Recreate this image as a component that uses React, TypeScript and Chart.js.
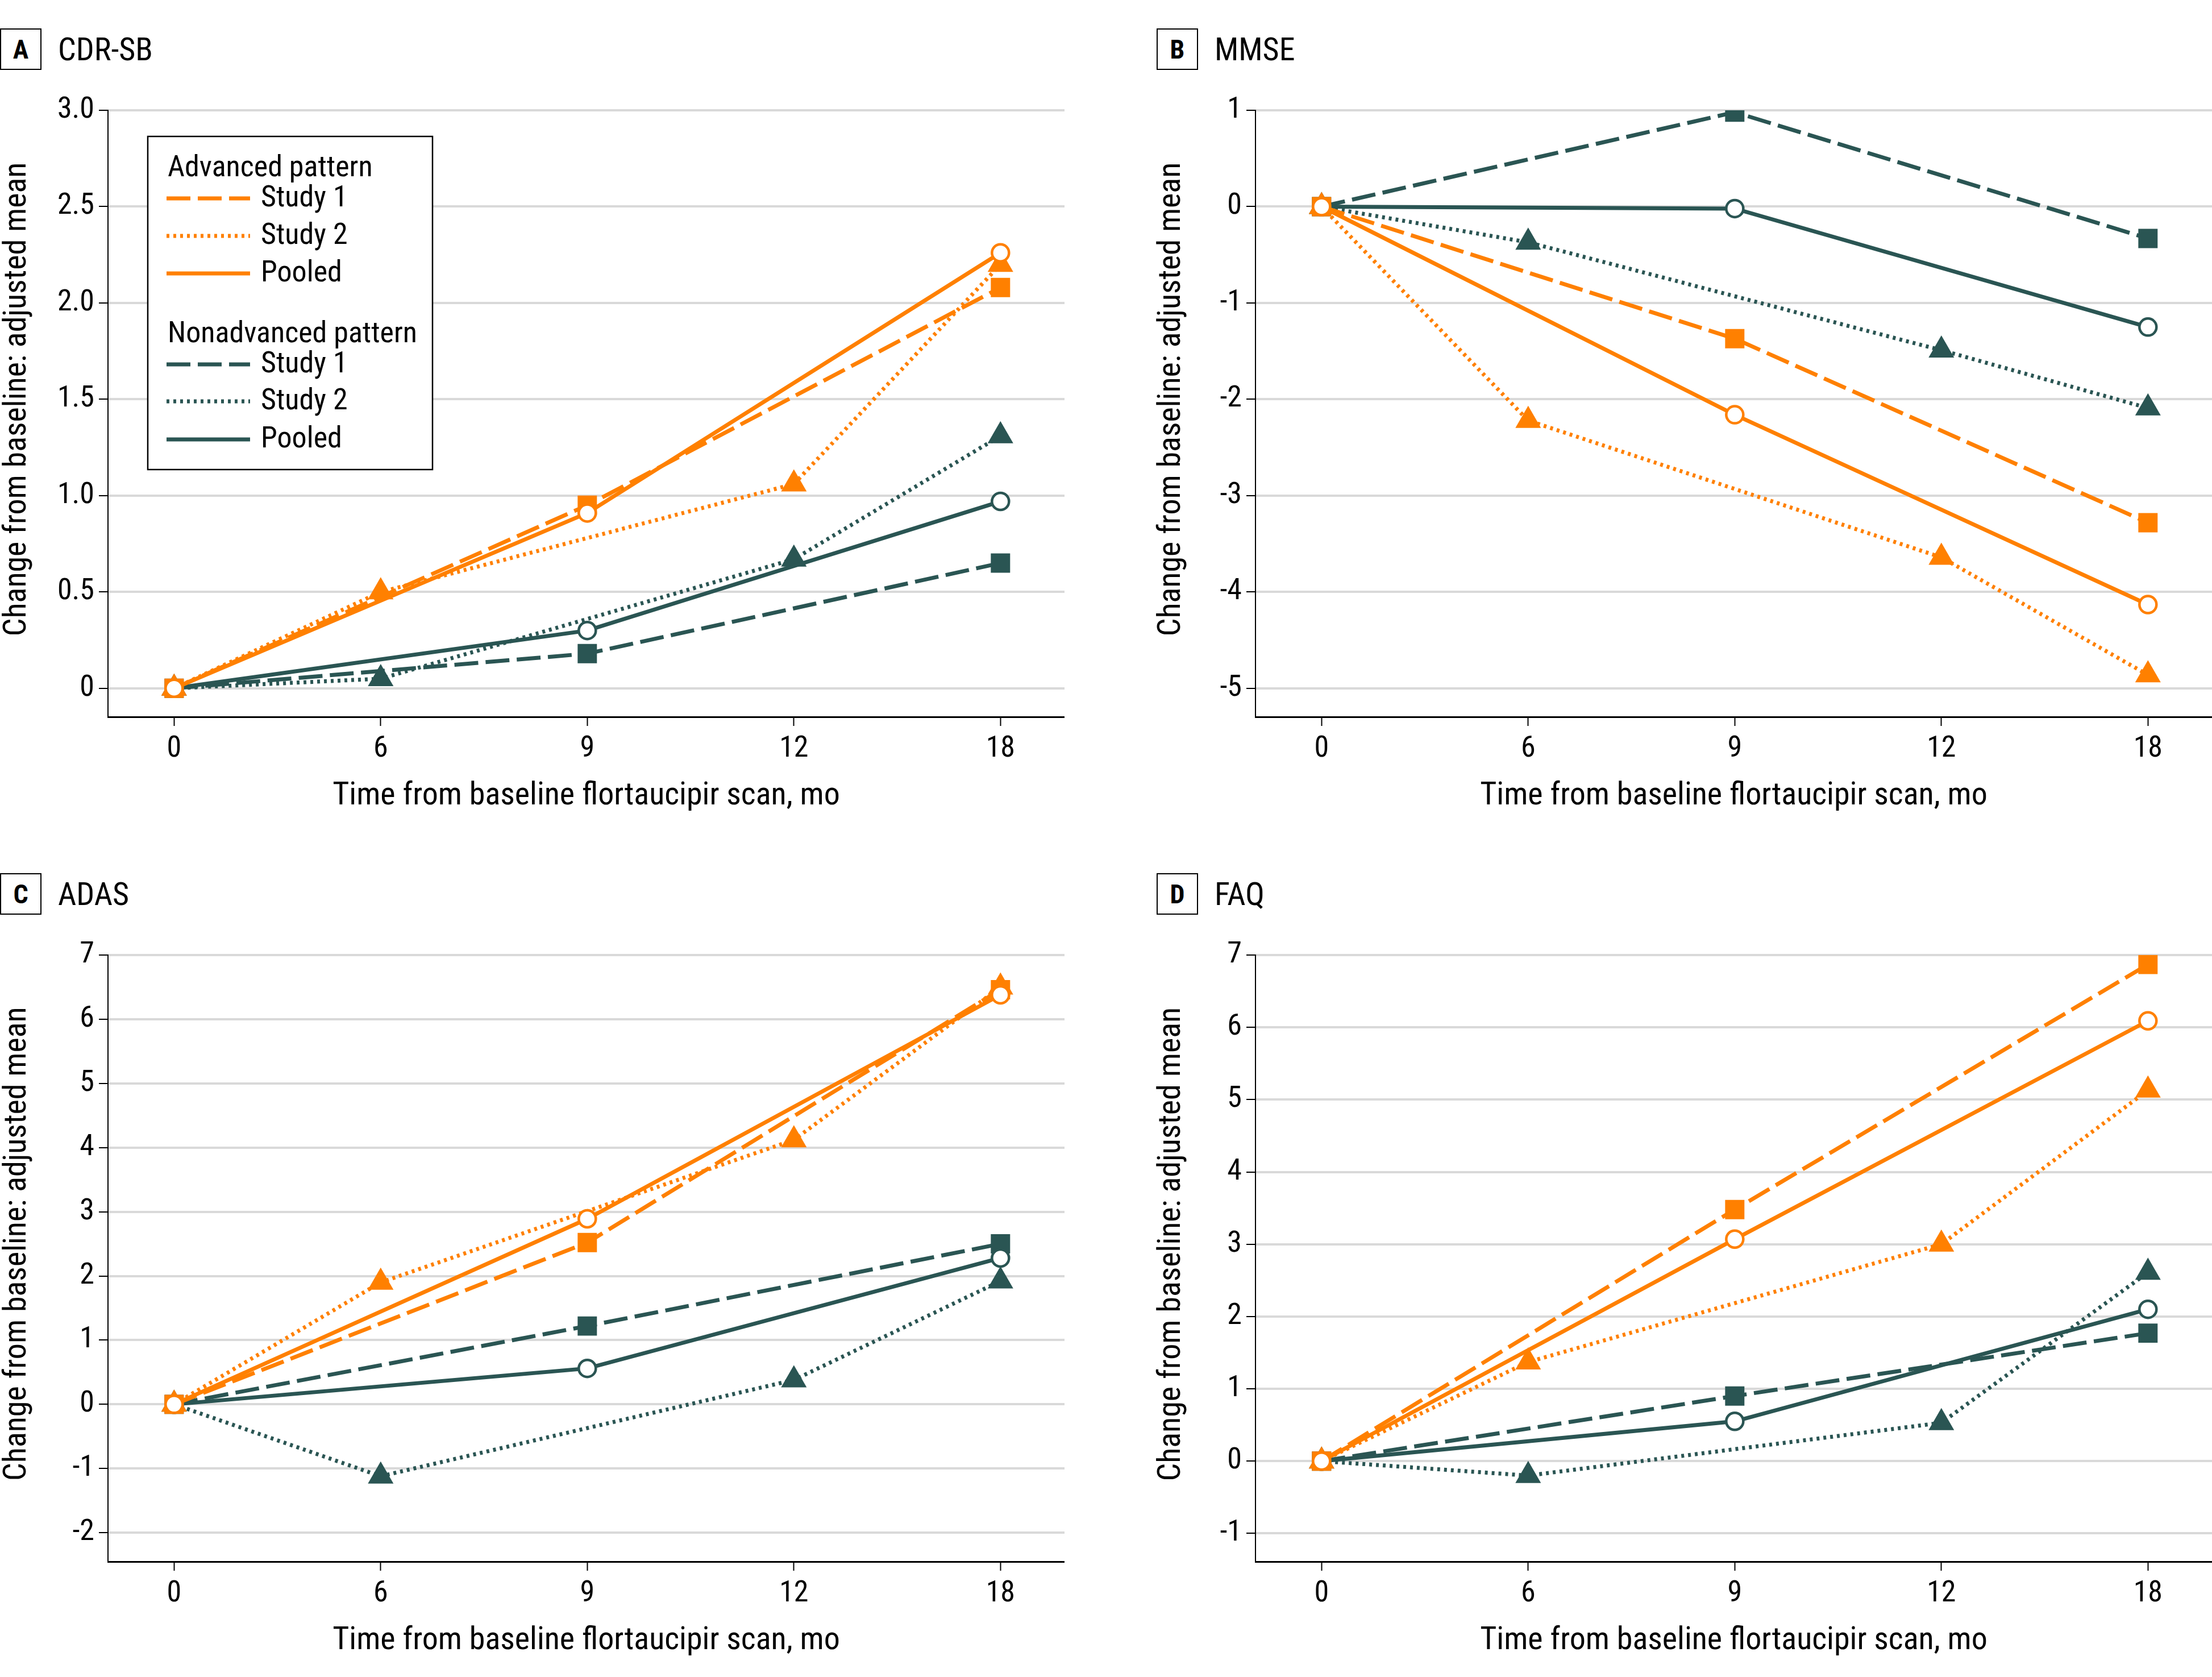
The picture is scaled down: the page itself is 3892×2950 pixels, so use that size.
import React, { useEffect, useRef } from 'react';
import { Chart, registerables } from 'chart.js';

Chart.register(...registerables);

const FONT = "'Roboto Condensed', 'Liberation Sans Narrow', 'DejaVu Sans Condensed', 'Noto Sans', sans-serif";
const ORANGE = '#FF8000';
const TEAL = '#2A5553';

const TIME_LABELS = ['0', '6', '9', '12', '18'];
const X_TITLE = 'Time from baseline flortaucipir scan, mo';
const Y_TITLE = 'Change from baseline: adjusted mean';
const SERIES_NAMES = ['Study 1', 'Study 2', 'Pooled'];
const GROUP_NAMES = ['Advanced pattern', 'Nonadvanced pattern'];

// Panel A: CDR-SB
const A_ADV_STUDY1 = [0, null, 0.95, null, 2.08];
const A_ADV_STUDY2 = [0, 0.5, null, 1.06, 2.2];
const A_ADV_POOLED = [0, null, 0.91, null, 2.26];
const A_NON_STUDY1 = [0, null, 0.18, null, 0.65];
const A_NON_STUDY2 = [0, 0.05, null, 0.67, 1.31];
const A_NON_POOLED = [0, null, 0.3, null, 0.97];
const A_Y_TICKS = [0, 0.5, 1, 1.5, 2, 2.5, 3];
const A_Y_LABELS = ['0', '0.5', '1.0', '1.5', '2.0', '2.5', '3.0'];

// Panel B: MMSE
const B_ADV_STUDY1 = [0, null, -1.37, null, -3.28];
const B_ADV_STUDY2 = [0, -2.22, null, -3.64, -4.86];
const B_ADV_POOLED = [0, null, -2.16, null, -4.13];
const B_NON_STUDY1 = [0, null, 0.98, null, -0.33];
const B_NON_STUDY2 = [0, -0.37, null, -1.49, -2.09];
const B_NON_POOLED = [0, null, -0.02, null, -1.25];
const B_Y_TICKS = [-5, -4, -3, -2, -1, 0, 1];
const B_Y_LABELS = ['-5', '-4', '-3', '-2', '-1', '0', '1'];

// Panel C: ADAS
const C_ADV_STUDY1 = [0, null, 2.52, null, 6.46];
const C_ADV_STUDY2 = [0, 1.9, null, 4.12, 6.5];
const C_ADV_POOLED = [0, null, 2.89, null, 6.38];
const C_NON_STUDY1 = [0, null, 1.22, null, 2.5];
const C_NON_STUDY2 = [0, -1.12, null, 0.38, 1.92];
const C_NON_POOLED = [0, null, 0.56, null, 2.28];
const C_Y_TICKS = [-2, -1, 0, 1, 2, 3, 4, 5, 6, 7];
const C_Y_LABELS = ['-2', '-1', '0', '1', '2', '3', '4', '5', '6', '7'];

// Panel D: FAQ
const D_ADV_STUDY1 = [0, null, 3.48, null, 6.87];
const D_ADV_STUDY2 = [0, 1.37, null, 3.0, 5.13];
const D_ADV_POOLED = [0, null, 3.07, null, 6.09];
const D_NON_STUDY1 = [0, null, 0.9, null, 1.77];
const D_NON_STUDY2 = [0, -0.2, null, 0.53, 2.61];
const D_NON_POOLED = [0, null, 0.55, null, 2.1];
const D_Y_TICKS = [-1, 0, 1, 2, 3, 4, 5, 6, 7];
const D_Y_LABELS = ['-1', '0', '1', '2', '3', '4', '5', '6', '7'];

const CANVAS_W = 1873;
const CANVAS_H = 1460;

const DASHES = [[42, 13], [5, 7], []];

type PanelSpec = {
  letter: string;
  title: string;
  adv: (number | null)[][];
  non: (number | null)[][];
  yTicks: number[];
  yLabels: string[];
  yMin: number;
  yMax: number;
  left: number;
  top: number;
  boxLeft: number;
  yTitleX: number;
  legend: boolean;
};

const PANELS: PanelSpec[] = [
  { letter: 'A', title: 'CDR-SB', adv: [A_ADV_STUDY1, A_ADV_STUDY2, A_ADV_POOLED], non: [A_NON_STUDY1, A_NON_STUDY2, A_NON_POOLED], yTicks: A_Y_TICKS, yLabels: A_Y_LABELS, yMin: -0.148, yMax: 3, left: 0, top: 0, boxLeft: 0, yTitleX: 31, legend: true },
  { letter: 'B', title: 'MMSE', adv: [B_ADV_STUDY1, B_ADV_STUDY2, B_ADV_POOLED], non: [B_NON_STUDY1, B_NON_STUDY2, B_NON_POOLED], yTicks: B_Y_TICKS, yLabels: B_Y_LABELS, yMin: -5.295, yMax: 1, left: 2019, top: 0, boxLeft: 2035, yTitleX: 43, legend: false },
  { letter: 'C', title: 'ADAS', adv: [C_ADV_STUDY1, C_ADV_STUDY2, C_ADV_POOLED], non: [C_NON_STUDY1, C_NON_STUDY2, C_NON_POOLED], yTicks: C_Y_TICKS, yLabels: C_Y_LABELS, yMin: -2.45, yMax: 7, left: 0, top: 1486, boxLeft: 0, yTitleX: 31, legend: false },
  { letter: 'D', title: 'FAQ', adv: [D_ADV_STUDY1, D_ADV_STUDY2, D_ADV_POOLED], non: [D_NON_STUDY1, D_NON_STUDY2, D_NON_POOLED], yTicks: D_Y_TICKS, yLabels: D_Y_LABELS, yMin: -1.39, yMax: 7, left: 2019, top: 1486, boxLeft: 2035, yTitleX: 43, legend: false },
];

const yTitlePlugin = {
  id: 'yTitle',
  afterDraw(chart: any, _args: any, opts: any) {
    const y = chart.scales.y;
    const t = y.ticks;
    const top = y.getPixelForValue(t[t.length - 1].value);
    const bottom = y.getPixelForValue(t[0].value);
    const ctx = chart.ctx;
    ctx.save();
    ctx.translate(opts.x, (top + bottom) / 2);
    ctx.rotate(-Math.PI / 2);
    ctx.font = `${opts.size}px ${FONT}`;
    ctx.fillStyle = '#000';
    ctx.textAlign = 'center';
    ctx.textBaseline = 'middle';
    ctx.fillText(opts.text, 0, 0);
    ctx.restore();
  },
};

const legendPlugin = {
  id: 'groupLegend',
  afterDatasetsDraw(chart: any) {
    const { ctx, chartArea } = chart;
    const x0 = chartArea.left + 70;
    const y0 = chartArea.top + 46;
    const w = 501;
    const h = 586;
    ctx.save();
    ctx.fillStyle = '#fff';
    ctx.fillRect(x0, y0, w, h);
    ctx.strokeStyle = '#000';
    ctx.lineWidth = 2.5;
    ctx.strokeRect(x0, y0, w, h);
    const groups = [
      { name: GROUP_NAMES[0], color: ORANGE, head: 70, rows: [109, 175, 241] },
      { name: GROUP_NAMES[1], color: TEAL, head: 362, rows: [401, 466, 533] },
    ];
    ctx.font = `52px ${FONT}`;
    groups.forEach((g) => {
      ctx.fillStyle = '#000';
      ctx.textAlign = 'left';
      ctx.textBaseline = 'alphabetic';
      ctx.fillText(g.name, x0 + 35, y0 + g.head);
      g.rows.forEach((ry, i) => {
        ctx.strokeStyle = g.color;
        ctx.lineWidth = 7;
        ctx.lineCap = 'butt';
        ctx.setLineDash(DASHES[i]);
        ctx.beginPath();
        ctx.moveTo(x0 + 33, y0 + ry);
        ctx.lineTo(x0 + 180, y0 + ry);
        ctx.stroke();
        ctx.setLineDash([]);
        ctx.fillStyle = '#000';
        ctx.textBaseline = 'middle';
        ctx.fillText(SERIES_NAMES[i], x0 + 199, y0 + ry + 1);
      });
    });
    ctx.restore();
  },
};

function makeDataset(values: (number | null)[], color: string, kind: number) {
  const pts = values.map((v, i) => ({ x: i, y: v }));
  const base: any = {
    data: pts,
    borderColor: color,
    borderWidth: 7,
    borderDash: DASHES[kind],
    borderCapStyle: 'butt',
    spanGaps: true,
    tension: 0,
    fill: false,
  };
  if (kind === 0) {
    return { ...base, pointStyle: 'rect', pointRadius: 24, pointBackgroundColor: color, pointBorderWidth: 0, pointBorderColor: color };
  }
  if (kind === 1) {
    return { ...base, pointStyle: 'triangle', pointRadius: 26, pointBackgroundColor: color, pointBorderWidth: 0, pointBorderColor: color };
  }
  return { ...base, pointStyle: 'circle', pointRadius: 15, pointBackgroundColor: '#fff', pointBorderWidth: 4.5, pointBorderColor: color };
}

function Panel({ spec }: { spec: PanelSpec }) {
  const ref = useRef<HTMLCanvasElement | null>(null);
  useEffect(() => {
    if (!ref.current) return;
    const datasets = [
      makeDataset(spec.adv[2], ORANGE, 2),
      makeDataset(spec.adv[0], ORANGE, 0),
      makeDataset(spec.adv[1], ORANGE, 1),
      makeDataset(spec.non[2], TEAL, 2),
      makeDataset(spec.non[0], TEAL, 0),
      makeDataset(spec.non[1], TEAL, 1),
    ];
    const chart = new Chart(ref.current, {
      type: 'line',
      data: { datasets },
      plugins: spec.legend ? [yTitlePlugin, legendPlugin] : [yTitlePlugin],
      options: {
        animation: false,
        responsive: false,
        devicePixelRatio: 1,
        events: [],
        layout: { autoPadding: false, padding: { top: 194, bottom: 25, left: 0, right: 0 } },
        plugins: {
          legend: { display: false },
          tooltip: { enabled: false },
          yTitle: { x: spec.yTitleX, text: Y_TITLE, size: 56 },
        } as any,
        scales: {
          x: {
            type: 'linear',
            min: -0.32,
            max: 4.31,
            afterBuildTicks: (axis: any) => {
              axis.ticks = TIME_LABELS.map((_, i) => ({ value: i }));
            },
            afterFit: (axis: any) => {
              axis.height = 174;
            },
            ticks: {
              callback: (v: any) => TIME_LABELS[v],
              font: { family: FONT, size: 52 },
              color: '#000',
              padding: 10,
              autoSkip: false,
              maxRotation: 0,
            },
            grid: { drawOnChartArea: false, drawTicks: true, tickLength: 16, tickColor: '#000', tickWidth: 2 },
            border: { display: true, color: '#000', width: 3 },
            title: { display: true, text: X_TITLE, font: { family: FONT, size: 56 }, color: '#000', padding: { top: 0, bottom: 0 } },
          },
          y: {
            type: 'linear',
            min: spec.yMin,
            max: spec.yMax,
            afterBuildTicks: (axis: any) => {
              axis.ticks = spec.yTicks.map((v) => ({ value: v }));
            },
            afterFit: (axis: any) => {
              axis.width = 190;
            },
            ticks: {
              callback: (v: any) => spec.yLabels[spec.yTicks.indexOf(v)],
              font: { family: FONT, size: 52 },
              color: '#000',
              padding: 8,
              autoSkip: false,
            },
            grid: { color: '#d9d9d9', lineWidth: 4, drawTicks: true, tickLength: 16, tickColor: '#000', tickWidth: 2 },
            border: { display: true, color: '#000', width: 2 },
          },
        } as any,
      },
    } as any);
    return () => chart.destroy();
  }, [spec]);

  return (
    <>
      <canvas
        ref={ref}
        width={CANVAS_W}
        height={CANVAS_H}
        style={{ position: 'absolute', left: spec.left, top: spec.top, width: CANVAS_W, height: CANVAS_H, display: 'block' }}
      />
      <div
        style={{
          position: 'absolute',
          left: spec.boxLeft,
          top: spec.top + 50,
          width: 73,
          height: 73,
          boxSizing: 'border-box',
          border: '2.5px solid #000',
          display: 'flex',
          alignItems: 'center',
          justifyContent: 'center',
          fontFamily: FONT,
          fontWeight: 700,
          fontSize: 46,
          color: '#000',
          background: '#fff',
        }}
      >
        {spec.letter}
      </div>
      <div
        style={{
          position: 'absolute',
          left: spec.boxLeft + 102,
          top: spec.top + 50,
          height: 73,
          display: 'flex',
          alignItems: 'center',
          fontFamily: FONT,
          fontSize: 56,
          color: '#000',
          whiteSpace: 'nowrap',
        }}
      >
        {spec.title}
      </div>
    </>
  );
}

export default function App() {
  return (
    <div style={{ position: 'absolute', left: 0, top: 0, width: 3892, height: 2950, background: '#fff', overflow: 'hidden' }}>
      {PANELS.map((p) => (
        <Panel key={p.letter} spec={p} />
      ))}
    </div>
  );
}
